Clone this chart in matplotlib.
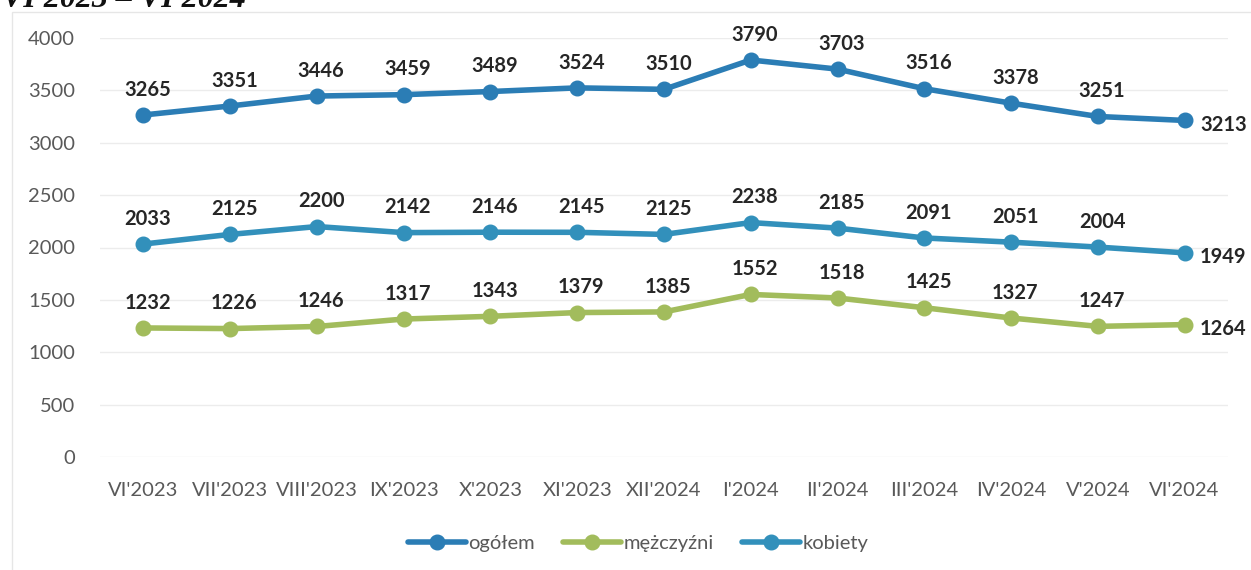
import matplotlib
matplotlib.use("Agg")
import matplotlib.pyplot as plt
from matplotlib.patches import Rectangle

months = ["VI'2023", "VII'2023", "VIII'2023", "IX'2023", "X'2023", "XI'2023", "XII'2024",
          "I'2024", "II'2024", "III'2024", "IV'2024", "V'2024", "VI'2024"]
ogolem = [3265, 3351, 3446, 3459, 3489, 3524, 3510, 3790, 3703, 3516, 3378, 3251, 3213]
kobiety = [2033, 2125, 2200, 2142, 2146, 2145, 2125, 2238, 2185, 2091, 2051, 2004, 1949]
mezczyzni = [1232, 1226, 1246, 1317, 1343, 1379, 1385, 1552, 1518, 1425, 1327, 1247, 1264]
yticks = [0, 500, 1000, 1500, 2000, 2500, 3000, 3500, 4000]

plt.rcParams['font.family'] = ['Lato', 'DejaVu Sans']

W, H = 1251, 570
fig = plt.figure(figsize=(W / 100, H / 100), dpi=100)
fig.patch.set_facecolor('white')

# faint chart border
fig.patches.append(Rectangle((12 / W, -0.1), 1.2, 1 - 12 / H + 0.1, transform=fig.transFigure,
                             fill=False, edgecolor='#e6e6e6', lw=1))

ax = fig.add_axes([100 / W, 1 - 457 / H, (1228 - 100) / W, (457 - 38) / H])
x = list(range(len(months)))

c_og = '#2b7db5'
c_m = '#a2bc5c'
c_k = '#3290bb'

series = [(ogolem, c_og, 'ogółem'), (mezczyzni, c_m, 'mężczyźni'), (kobiety, c_k, 'kobiety')]
for vals, col, lab in series:
    ax.plot(x, vals, color=col, lw=4, marker='o', ms=10.5, label=lab, solid_capstyle='round')
    for i, v in enumerate(vals):
        if i == len(vals) - 1:
            ax.annotate(str(v), (i, v), xytext=(11, -3), textcoords='offset points',
                        ha='left', va='center', fontsize=14.5, fontweight='bold', color='#262626')
        else:
            ax.annotate(str(v), (i, v), xytext=(3, 11), textcoords='offset points',
                        ha='center', va='bottom', fontsize=14.5, fontweight='bold', color='#262626')

ax.set_xlim(-0.5, 12.5)
ax.set_ylim(0, 4000)
ax.set_yticks(yticks)
ax.set_xticks(x)
ax.set_xticklabels(months)
ax.tick_params(axis='both', length=0, labelsize=14.5, labelcolor='#595959')
ax.tick_params(axis='y', pad=18)
ax.tick_params(axis='x', pad=18)
ax.grid(axis='y', color='#ececec', lw=1)
ax.set_axisbelow(True)
for s in ax.spines.values():
    s.set_visible(False)

leg = fig.legend(loc='center', bbox_to_anchor=(638 / W, 1 - 543 / H), ncol=3, frameon=False,
                 fontsize=14.5, handlelength=2.9, columnspacing=1.4, handletextpad=0.1)
for t in leg.get_texts():
    t.set_color('#595959')

fig.text(2 / W, 1 - 7 / H, "VI 2023 – VI 2024", family='Liberation Serif', fontsize=23,
         fontweight='bold', style='italic', color='#111111', va='baseline', ha='left')

fig.savefig('out.png', dpi=100, facecolor='white')
